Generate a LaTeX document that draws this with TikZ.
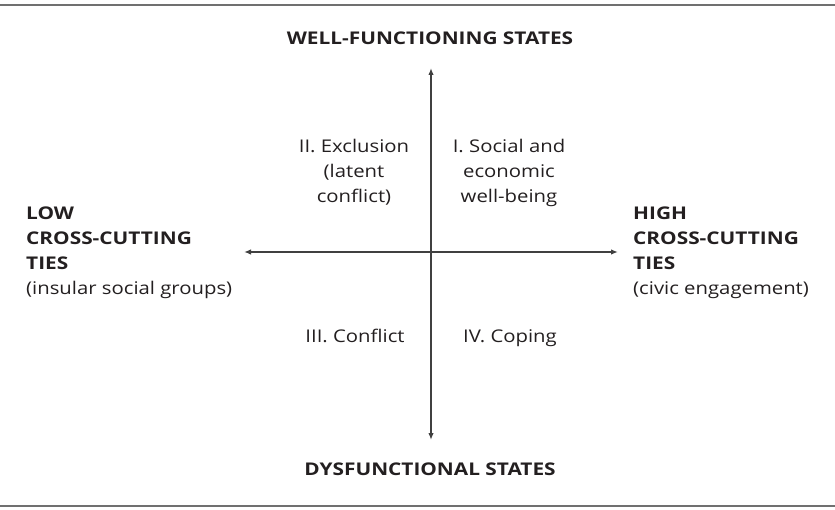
\documentclass[tikz,border=0pt]{standalone}
\usepackage{fontspec}
\setmainfont[FakeStretch=1.16, BoldFeatures={FakeStretch=1.19}]{Open Sans}
\usetikzlibrary{arrows.meta}
\definecolor{ink}{HTML}{231F20}
\definecolor{axiscol}{HTML}{404040}
\definecolor{rulecol}{HTML}{707070}
\begin{document}
\begin{tikzpicture}[x=1pt,y=-1pt,
  lbl/.style={font=\fontsize{17.5}{25}\selectfont, text=ink, inner sep=0pt},
  boldlbl/.style={font=\fontsize{17.5}{25}\selectfont\bfseries, text=ink, inner sep=0pt},
  axisline/.style={draw=axiscol, line width=1.4pt, {Latex[length=7pt,width=5.5pt]}-{Latex[length=7pt,width=5.5pt]}},
  rulestyle/.style={draw=rulecol, line width=1.5pt}]
\useasboundingbox (0,0) rectangle (835,510);
% rules
\coordinate (rtl) at (0,5);
\coordinate (rtr) at (835,5);
\coordinate (rbl) at (0,506);
\coordinate (rbr) at (835,506);
\draw[rulestyle] (rtl) -- (rtr);
\draw[rulestyle] (rbl) -- (rbr);
% axes
\coordinate (atop) at (431,68);
\coordinate (abot) at (431,440);
\coordinate (aleft) at (244,252);
\coordinate (aright) at (618,252);
\draw[axisline] (abot) -- (atop);
\draw[axisline] (aleft) -- (aright);
% labels
\node[boldlbl, anchor=base] (wf) at (430,45) {WELL-FUNCTIONING STATES};
\node[boldlbl, anchor=base] (dys) at (430,475) {DYSFUNCTIONAL STATES};
\node[lbl, align=center, anchor=base] (q2) at (354,203) {II. Exclusion\\(latent\\conflict)};
\node[lbl, align=center, anchor=base] (q1) at (509,203) {I. Social and\\economic\\well-being};
\node[lbl, anchor=base] (q3) at (355,343) {III. Conflict};
\node[lbl, anchor=base] (q4) at (510,343) {IV. Coping};
\node[lbl, align=left, anchor=base west] (low) at (26,295) {\bfseries LOW\\\bfseries CROSS-CUTTING\\\bfseries TIES\\(insular social groups)};
\node[lbl, align=left, anchor=base west] (high) at (633,295) {\bfseries HIGH\\\bfseries CROSS-CUTTING\\\bfseries TIES\\(civic engagement)};
\end{tikzpicture}
\end{document}
